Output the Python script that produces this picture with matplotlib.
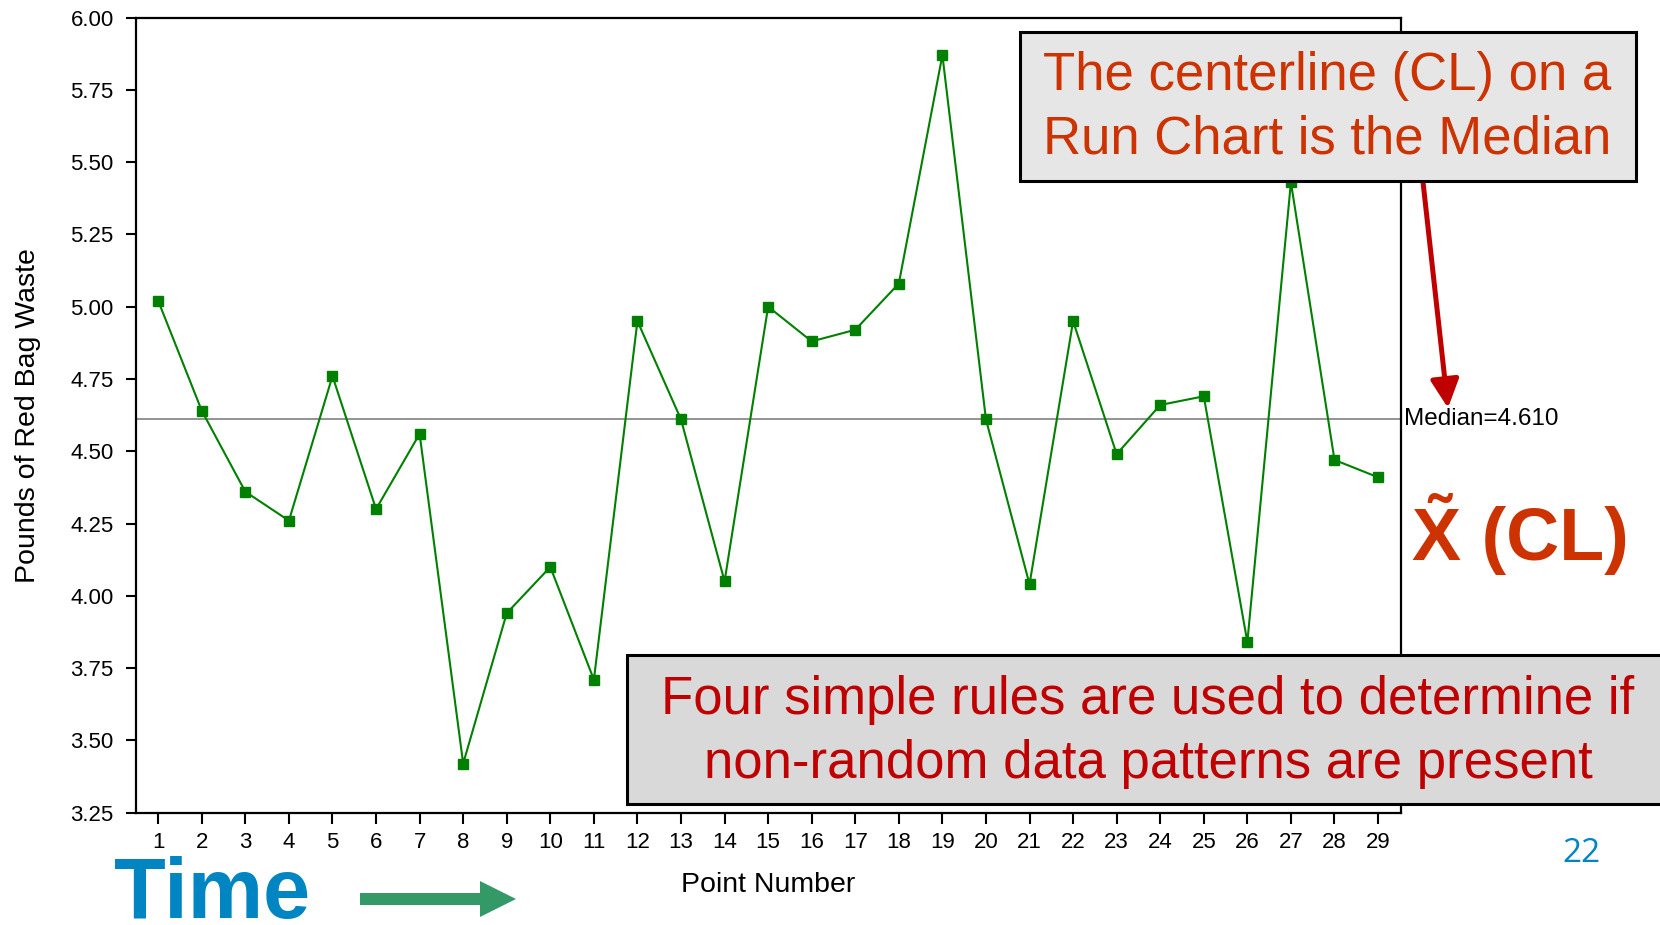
import numpy as np
import matplotlib
matplotlib.use("Agg")
import matplotlib.pyplot as plt
from matplotlib.patches import Rectangle, FancyArrow, FancyArrowPatch
from matplotlib.transforms import Affine2D

plt.rcParams["font.family"] = ["Liberation Sans", "DejaVu Sans"]

# run chart data: red bag waste per point
points = list(range(1, 30))
waste = [5.02, 4.64, 4.36, 4.26, 4.76, 4.30, 4.56, 3.42, 3.94, 4.10,
         3.71, 4.95, 4.61, 4.05, 5.00, 4.88, 4.92, 5.08, 5.87, 4.61,
         4.04, 4.95, 4.49, 4.66, 4.69, 3.84, 5.43, 4.47, 4.41]
y_ticks = [3.25, 3.50, 3.75, 4.00, 4.25, 4.50, 4.75, 5.00, 5.25, 5.50, 5.75, 6.00]

box_top_text = "The centerline (CL) on a\nRun Chart is the Median"
box_bottom_text = "Four simple rules are used to determine if\nnon-random data patterns are present"

W, H = 1660, 925
fig = plt.figure(figsize=(W / 100, H / 100), dpi=100)
# pixel coords measured from the top-left corner
pix = Affine2D().scale(1 / W, -1 / H).translate(0, 1) + fig.transFigure

ax = fig.add_axes([136 / W, 1 - 812.7 / H, 1264.7 / W, 795.2 / H])

median = np.median(waste)
ax.axhline(median, color="#808080", lw=1.2, zorder=1)
ax.plot(points, waste, color="#008000", lw=1.5, marker="s", ms=6.5, zorder=2)
ax.text(1.0026, median, f"Median={median:.3f}", transform=ax.get_yaxis_transform(),
        ha="left", va="center", fontsize=17.5, color="black")

ax.set_xlim(0.49, 29.52)
ax.set_ylim(3.25, 6.00)
ax.set_xticks(points)
ax.set_yticks(y_ticks)
ax.set_yticklabels([f"{v:.2f}" for v in y_ticks])
ax.tick_params(axis="x", direction="out", length=8, width=1.5, pad=6, labelsize=16)
ax.tick_params(axis="y", direction="out", length=7, width=1.5, pad=9, labelsize=16)
for s in ax.spines.values():
    s.set_linewidth(1.6)

ax.set_xlabel("Point Number", fontsize=20.5)
ax.set_ylabel("Pounds of Red Bag Waste", fontsize=20.5)
ax.xaxis.set_label_coords(0.5, -0.074)
ax.yaxis.set_label_coords(-0.075, 0.5)

# callout boxes
fig.add_artist(Rectangle((1020, 32), 616, 148.5, transform=pix, facecolor="#e6e6e6",
                         edgecolor="black", lw=2.2, zorder=5))
fig.text(1327, 108, box_top_text, transform=pix, ha="center", va="center",
         fontsize=38, color="#cc3300", linespacing=1.34, zorder=6)

fig.add_artist(Rectangle((627, 655), 1100, 149, transform=pix, facecolor="#d9d9d9",
                         edgecolor="black", lw=2.2, zorder=5))
fig.text(1148, 732, box_bottom_text, transform=pix, ha="center", va="center",
         fontsize=38, color="#c00000", linespacing=1.34, zorder=6)

# red arrow pointing at the median line
fig.add_artist(FancyArrowPatch(
    (1423, 182), (1448, 408), transform=pix, arrowstyle="-|>,head_length=0.4,head_width=0.2",
    mutation_scale=43, lw=3.6, color="#c00000", shrinkA=0, shrinkB=0, zorder=4))

fig.text(1412, 560, "X\u0303 (CL)", transform=pix, ha="left", va="baseline",
         fontsize=53, fontweight="bold", color="#cc3300")

# time arrow along the bottom
fig.text(114, 918, "Time", transform=pix, ha="left", va="baseline",
         fontsize=61, fontweight="bold", color="#0085c3")
fig.add_artist(FancyArrow(360, 899, 156, 0, width=12, head_width=36, head_length=36,
                          length_includes_head=True, transform=pix, color="#339966", lw=0))

fig.text(1581.5, 861.7, "22", transform=pix, ha="center", va="baseline",
         fontsize=24, family="Open Sans", color="#0085c3")

fig.savefig("out.png", dpi=100)
